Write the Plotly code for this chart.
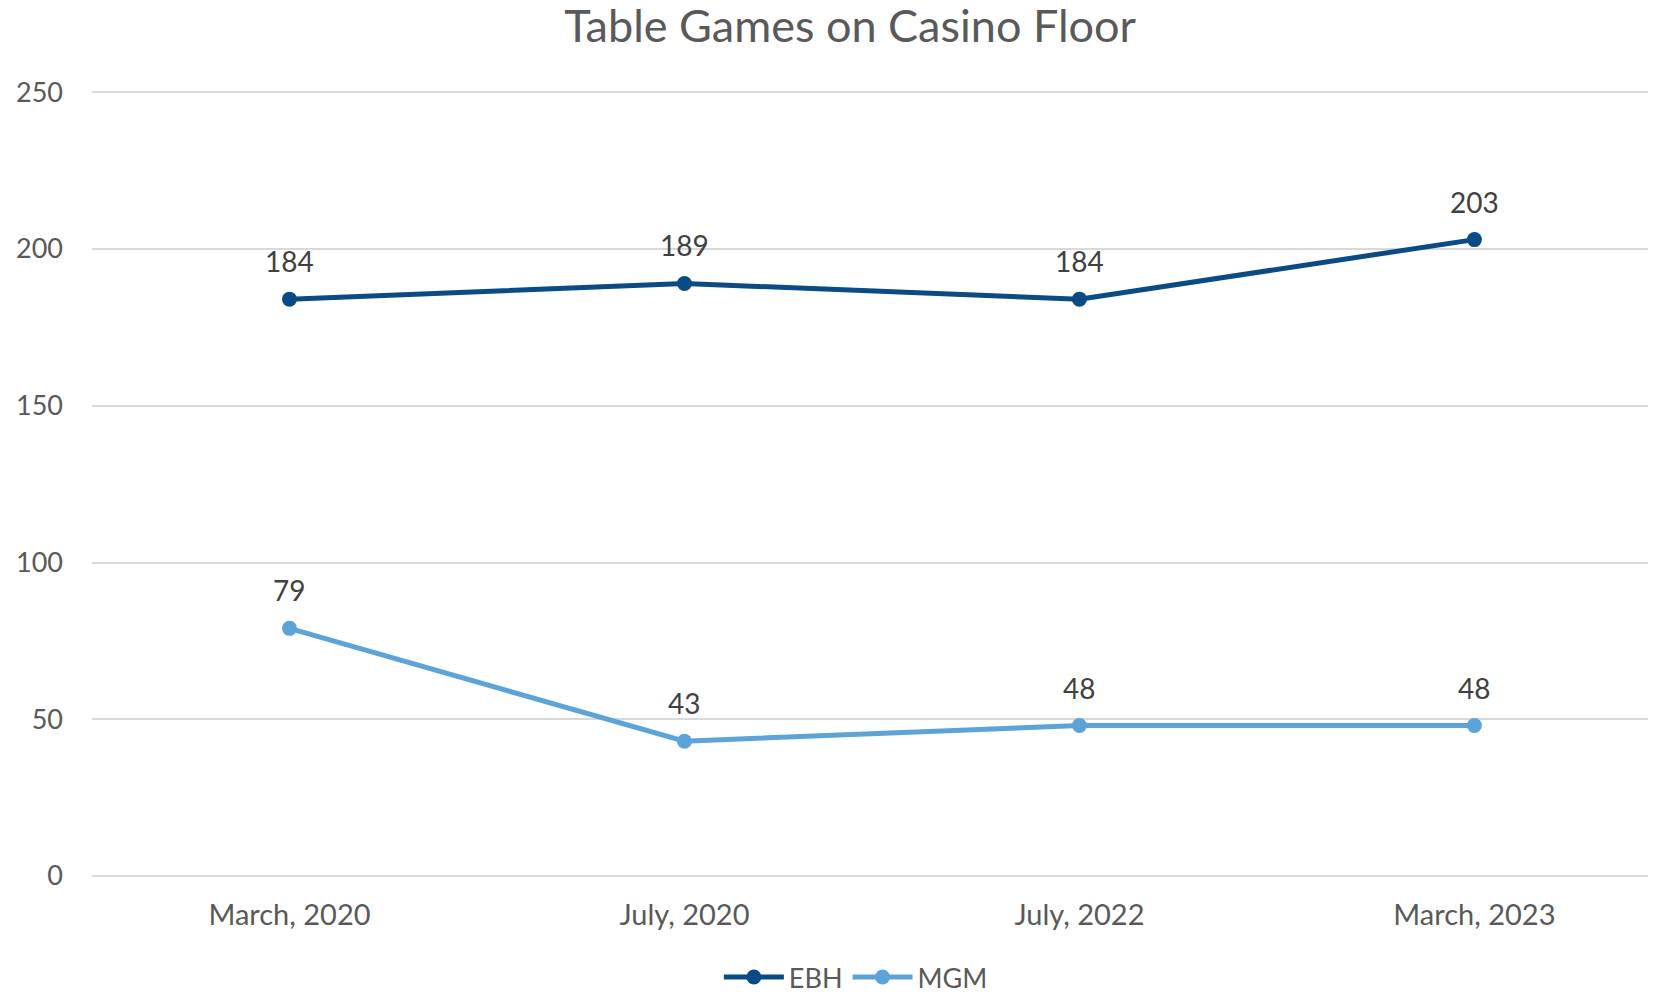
import plotly.graph_objects as go

categories = ["March, 2020", "July, 2020", "July, 2022", "March, 2023"]
ebh = [184, 189, 184, 203]
mgm = [79, 43, 48, 48]
y_ticks = [0, 50, 100, 150, 200, 250]

EBH_COLOR = "#0A4A85"
MGM_COLOR = "#5BA3D8"
TEXT = "#595959"
FONT = "Lato"

fig = go.Figure()
for name, vals, col in [("EBH", ebh, EBH_COLOR), ("MGM", mgm, MGM_COLOR)]:
    fig.add_trace(go.Scatter(
        x=categories, y=vals, name=name, mode="lines+markers",
        line=dict(color=col, width=5),
        marker=dict(color=col, size=15),
    ))
    for c, v in zip(categories, vals):
        fig.add_annotation(x=c, y=v, text=str(v), showarrow=False, yshift=38,
                           font=dict(family=FONT, size=28, color="#404040"))

fig.update_layout(
    width=1656, height=994,
    paper_bgcolor="white", plot_bgcolor="white",
    margin=dict(l=84, r=0, t=83, b=126),
    title=dict(text="Table Games on Casino Floor", x=0.5085, xref="container", xanchor="center",
               y=1 - 18 / 994, yref="container", yanchor="middle",
               font=dict(family=FONT, size=45, color=TEXT)),
    legend=dict(orientation="h", x=0.512, xref="container", xanchor="center",
                y=0, yref="container", yanchor="bottom",
                font=dict(family=FONT, size=27, color=TEXT), itemwidth=60),
    showlegend=True,
)
fig.update_xaxes(type="category", range=[-0.5, 3.48], showgrid=False, showline=False,
                 tickfont=dict(family=FONT, size=29, color=TEXT), ticks="", ticklabelstandoff=19)
fig.update_yaxes(range=[0, 250.4], tickvals=y_ticks, gridcolor="#D9D9D9", gridwidth=1.5,
                 zeroline=True, zerolinecolor="#D9D9D9", zerolinewidth=1.5, showline=False,
                 tickfont=dict(family=FONT, size=27, color=TEXT), ticks="", ticklabelstandoff=28)

fig.write_html("out.html")
